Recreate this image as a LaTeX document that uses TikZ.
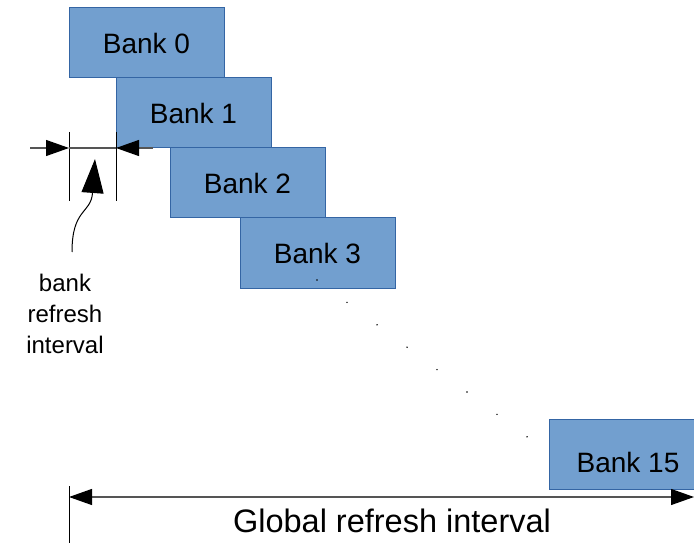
\documentclass[tikz,border=0pt]{standalone}
\usepackage{fontspec}
\setmainfont{Liberation Sans}
\usetikzlibrary{arrows.meta}
\definecolor{bankfill}{HTML}{729FCF}
\definecolor{bankline}{HTML}{3465A4}
\definecolor{dimgray}{HTML}{555555}
\begin{document}
\begin{tikzpicture}[x=1bp,y=-1bp,
  bankbox/.style={draw=bankline, fill=bankfill, line width=1bp,
    minimum width=155bp, minimum height=70bp, inner sep=0pt,
    font=\fontsize{28bp}{32bp}\selectfont, text=black},
  banktext/.style={font=\fontsize{28bp}{32bp}\selectfont, inner sep=0pt},
  dimline/.style={draw=dimgray, line width=1.2bp},
  extline/.style={draw=black, line width=0.9bp},
  blacktip/.tip={Triangle[length=23bp,width=16bp,black]},
  smalltip/.style={-blacktip},
  dotmark/.style={fill=black, inner sep=0pt, minimum size=1.6bp, circle}]
\useasboundingbox (0,0) rectangle (694,543);
\begin{scope}
\clip (0,0) rectangle (694,543);

% staggered bank boxes
\node[bankbox] (b0) at (146.5,43) {Bank 0};
\node[bankbox] (b1) at (193.5,113) {Bank 1};
\node[bankbox] (b2) at (247.5,183) {Bank 2};
\node[bankbox] (b3) at (317.5,253) {Bank 3};
\node[bankbox] (b15) at (626.5,454) {};
\node[banktext] (b15t) at (628,462) {Bank 15};

% ellipsis between bank 3 and bank 15
\foreach \i in {0,...,7}
  \node[dotmark] (d\i) at (317+30*\i,280+22.4*\i) {};

% bank refresh interval dimension
\coordinate (e0a) at (69,132);
\coordinate (e0b) at (69,201);
\coordinate (e1a) at (116,132);
\coordinate (e1b) at (116,201);
\coordinate (la) at (30,148);
\coordinate (lb) at (69,148);
\coordinate (ra) at (153,148);
\coordinate (rb) at (116,148);
\draw[extline] (e0a) -- (e0b);
\draw[extline] (e1a) -- (e1b);
\draw[dimline] (lb) -- (rb);
\draw[dimline, smalltip] (la) -- (lb);
\draw[dimline, smalltip] (ra) -- (rb);

% label with curved pointer
\node[align=center, font=\fontsize{24bp}{31bp}\selectfont] (lbl) at (65,314)
  {bank\\refresh\\interval};
\coordinate (ptip) at (95,159);
\draw[line width=1bp, -{Triangle[length=34bp,width=22bp,black]}]
  (72,252) .. controls (72,208) and (91,214) .. (ptip);

% global refresh interval dimension
\coordinate (g0) at (69,486);
\coordinate (g1) at (69,543);
\coordinate (ga) at (69,497);
\coordinate (gb) at (694,497);
\draw[extline] (g0) -- (g1);
\draw[dimline, blacktip-blacktip] (ga) -- (gb);
\node[font=\fontsize{32.5bp}{36bp}\selectfont] (glbl) at (392,521)
  {Global refresh interval};
\end{scope}
\end{tikzpicture}
\end{document}
